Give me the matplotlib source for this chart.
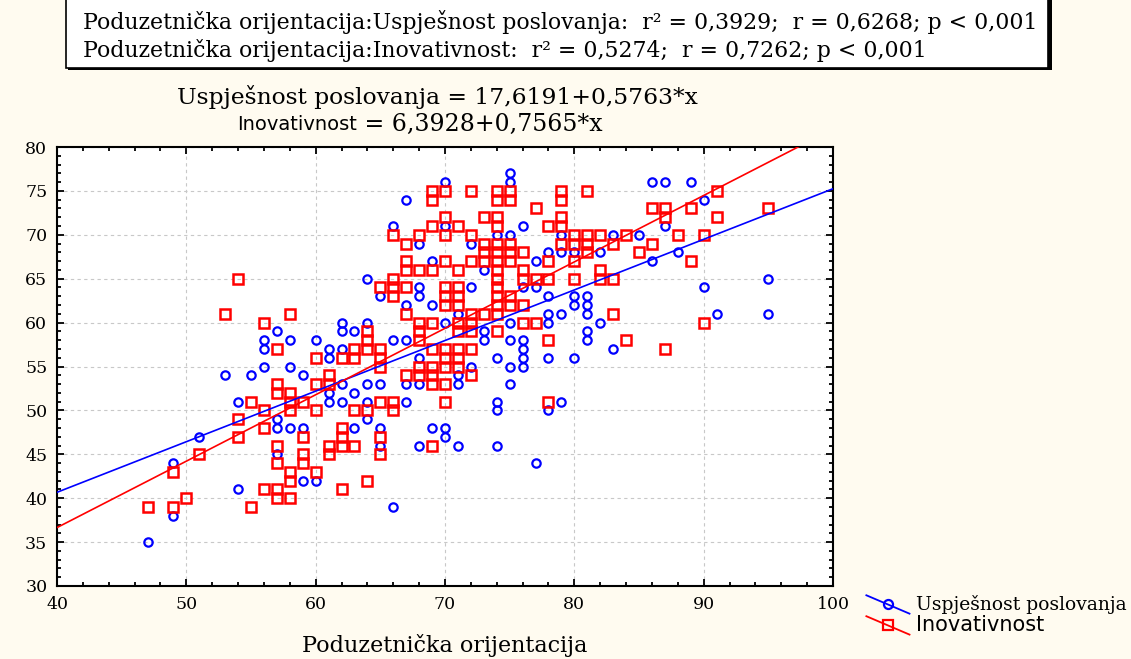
import numpy as np
import matplotlib
matplotlib.use('Agg')
import matplotlib.pyplot as plt
from matplotlib.lines import Line2D
from matplotlib.patches import Rectangle
from matplotlib.legend_handler import HandlerBase
from matplotlib.ticker import MultipleLocator

plt.rcParams['font.family'] = ['DejaVu Serif', 'DejaVu Sans']

# Uspjesnost poslovanja (blue circles): x value -> y values
usp_points = {
    47: [35], 49: [44, 38], 51: [47], 53: [54], 54: [51, 41], 55: [54],
    56: [58, 57, 55], 57: [59, 49, 48, 45], 58: [58, 55, 48], 59: [54, 48, 42],
    60: [58, 42], 61: [57, 56, 52, 51], 62: [60, 59, 57, 53, 51], 63: [59, 52, 48],
    64: [65, 60, 53, 51, 49], 65: [63, 53, 48, 46], 66: [71, 58, 39],
    67: [74, 62, 58, 53, 51], 68: [69, 64, 63, 56, 53, 46], 69: [67, 62, 48],
    70: [76, 71, 60, 48, 47], 71: [61, 54, 53, 46], 72: [69, 64, 55], 73: [66, 59, 58],
    74: [70, 56, 51, 50, 46], 75: [77, 76, 70, 60, 58, 55, 53],
    76: [71, 64, 58, 57, 56, 55], 77: [67, 64, 44], 78: [68, 63, 61, 60, 56, 50],
    79: [70, 68, 61, 51], 80: [68, 63, 62, 56], 81: [63, 62, 61, 59, 58],
    82: [68, 60], 83: [70, 57], 85: [70], 86: [76, 67], 87: [76, 71], 88: [68],
    89: [76], 90: [74, 64], 91: [61], 95: [65, 61],
}

# Inovativnost (red squares)
ino_points = {
    47: [39], 49: [43, 39], 50: [40], 51: [45], 53: [61], 54: [65, 49, 47],
    55: [51, 39], 56: [60, 50, 48, 41], 57: [57, 53, 52, 46, 44, 41, 40],
    58: [61, 52, 51, 50, 43, 42, 40], 59: [51, 47, 45, 44], 60: [56, 53, 50, 43],
    61: [54, 53, 46, 45], 62: [56, 48, 47, 46, 41], 63: [57, 56, 50, 46],
    64: [59, 58, 57, 50, 42], 65: [64, 57, 56, 55, 51, 47, 45],
    66: [70, 65, 64, 63, 51, 50], 67: [69, 67, 66, 64, 61, 54],
    68: [70, 66, 60, 59, 58, 55, 54], 69: [75, 74, 71, 66, 60, 57, 55, 54, 53, 46],
    70: [75, 72, 70, 67, 64, 63, 62, 57, 56, 55, 53, 51],
    71: [71, 66, 64, 63, 62, 60, 59, 57, 56, 55], 72: [75, 70, 67, 61, 60, 59, 57, 54],
    73: [72, 69, 68, 67, 61],
    74: [75, 74, 72, 71, 69, 68, 67, 66, 65, 64, 63, 62, 61, 59],
    75: [75, 74, 69, 68, 67, 63, 62], 76: [68, 66, 65, 62, 60], 77: [73, 65, 60],
    78: [71, 67, 65, 58, 51], 79: [75, 74, 72, 71, 69], 80: [70, 69, 67, 65],
    81: [75, 70, 69, 68], 82: [70, 66, 65], 83: [69, 65, 61], 84: [70, 58], 85: [68],
    86: [73, 69], 87: [73, 72, 57], 88: [70], 89: [73, 67], 90: [70, 60],
    91: [75, 72], 95: [73],
}

usp_x = [x for x, ys in usp_points.items() for _ in ys]
usp_y = [y for ys in usp_points.values() for y in ys]
ino_x = [x for x, ys in ino_points.items() for _ in ys]
ino_y = [y for ys in ino_points.values() for y in ys]

# regression coefficients as printed on the chart
usp_fit = (17.6191, 0.5763)
ino_fit = (6.3928, 0.7565)

header_lines = [
    "Poduzetnička orijentacija:Uspješnost poslovanja:  r² = 0,3929;  r = 0,6268; p < 0,001",
    "Poduzetnička orijentacija:Inovativnost:  r² = 0,5274;  r = 0,7262; p < 0,001",
]

W, H = 1131, 659
bg = '#FFFBF0'
fig = plt.figure(figsize=(W / 100, H / 100), dpi=100, facecolor=bg)
ax = fig.add_axes([57 / W, 1 - 586 / H, (833 - 57) / W, (586 - 147) / H])
ax.set_facecolor('white')

ax.plot(usp_x, usp_y, ls='none', marker='o', mfc='none', mec='#0000FF', ms=6, mew=1.6, zorder=3)
ax.plot(ino_x, ino_y, ls='none', marker='s', mfc='none', mec='#FF0000', ms=7, mew=1.8, zorder=4)

xx = np.array([40, 100])
ax.plot(xx, usp_fit[0] + usp_fit[1] * xx, color='#0000FF', lw=1.2, zorder=5)
ax.plot(xx, ino_fit[0] + ino_fit[1] * xx, color='#FF0000', lw=1.2, zorder=5)

ax.set_xlim(40, 100)
ax.set_ylim(30, 80)
ax.xaxis.set_major_locator(MultipleLocator(10))
ax.xaxis.set_minor_locator(MultipleLocator(2))
ax.yaxis.set_major_locator(MultipleLocator(5))
ax.yaxis.set_minor_locator(MultipleLocator(1))
ax.tick_params(which='both', direction='in', top=True, right=True, labelsize=12.5, width=1.3)
ax.tick_params(which='major', length=5, pad=7)
ax.tick_params(which='minor', length=3)
ax.grid(True, which='major', ls=(0, (3, 3)), color='#C8C8C8', lw=0.8)
ax.set_axisbelow(True)
for sp in ax.spines.values():
    sp.set_linewidth(1.5)
ax.set_xlabel("Poduzetnička orijentacija", fontsize=16, labelpad=15)

# header box with shadow
fig.patches.append(Rectangle((68 / W, 1 - 70 / H), (1050 - 66) / W, 0.2, transform=fig.transFigure,
                             facecolor='black', edgecolor='none', zorder=1))
fig.patches.append(Rectangle((66 / W, 1 - 68 / H), (1048 - 66) / W, 0.2, transform=fig.transFigure,
                             facecolor='white', edgecolor='black', lw=1.2, zorder=2))
fig.text(83 / W, 1 - 22 / H, header_lines[0], fontsize=15.8, va='center', ha='left', zorder=3)
fig.text(83 / W, 1 - 50 / H, header_lines[1], fontsize=15.8, va='center', ha='left', zorder=3)

# regression equations
fig.text(437 / W, 1 - 97 / H, "Uspješnost poslovanja = 17,6191+0,5763*x", fontsize=16.8,
         ha='center', va='center')
fig.text(357 / W, 1 - 124 / H, "Inovativnost", family='DejaVu Sans', fontsize=14,
         ha='right', va='center')
fig.text(357 / W, 1 - 124 / H, " = 6,3928+0,7565*x", fontsize=17, ha='left', va='center')


class DiagonalHandler(HandlerBase):
    def create_artists(self, legend, orig_handle, xdescent, ydescent, width, height, fontsize, trans):
        x0, x1 = -xdescent, -xdescent + width
        y0, y1 = -ydescent + height * 1.15, -ydescent - height * 0.25
        line = Line2D([x0, x1], [y0, y1], color=orig_handle.get_color(), lw=1.3, transform=trans)
        mark = Line2D([(x0 + x1) / 2], [(y0 + y1) / 2], marker=orig_handle.get_marker(),
                      mfc='none', mec=orig_handle.get_color(), ms=6.5, mew=1.6, transform=trans)
        return [line, mark]


handles = [Line2D([], [], color='#0000FF', marker='o'), Line2D([], [], color='#FF0000', marker='s')]
leg = fig.legend(handles, ["Uspješnost poslovanja", "Inovativnost"], loc='upper left',
                 bbox_to_anchor=(857 / W, 1 - 586 / H), frameon=False, fontsize=13.5,
                 handlelength=2.3, handletextpad=0.35, labelspacing=0.05, borderpad=0,
                 handler_map={Line2D: DiagonalHandler()})
leg.get_texts()[1].set_family('DejaVu Sans')
leg.get_texts()[1].set_fontsize(15)

fig.savefig('out.png', dpi=100, facecolor=bg)
